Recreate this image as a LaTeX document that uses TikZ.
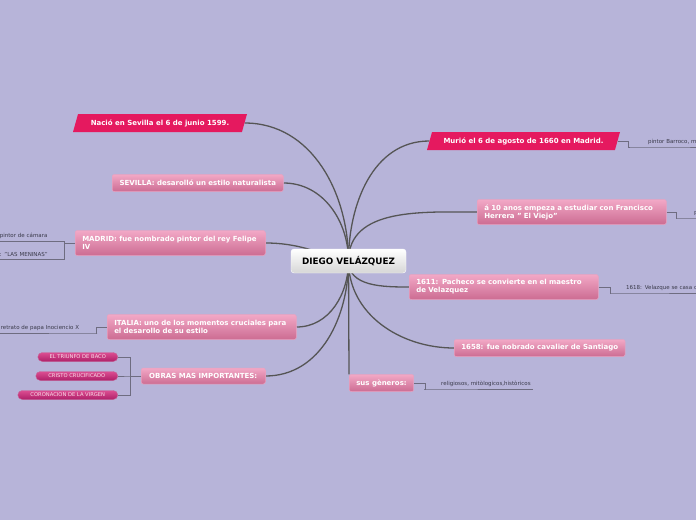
\documentclass[tikz,border=0pt]{standalone}
\usepackage{fontspec}
\setmainfont{DejaVu Sans}
\usetikzlibrary{shapes.geometric,backgrounds,calc}
\definecolor{bgcolor}{HTML}{B7B4D9}
\definecolor{linecolor}{HTML}{555555}
\definecolor{twigcolor}{HTML}{6E6C80}
\definecolor{datecolor}{HTML}{E5195F}
\definecolor{pinktop}{HTML}{F2A8C6}
\definecolor{pinkbot}{HTML}{CC6C92}
\definecolor{pinkedge}{HTML}{E8A2C0}
\definecolor{worktop}{HTML}{DC4E92}
\definecolor{workbot}{HTML}{AE1F68}
\definecolor{leafcolor}{HTML}{3A3A4A}

\tikzset{
  topic/.style={rectangle, rounded corners=2pt, top color=pinktop, bottom color=pinkbot,
    draw=pinkedge, line width=0.5pt, text=white, font=\bfseries\fontsize{7}{8}\selectfont,
    inner xsep=7pt, inner ysep=1pt, anchor=west},
  datebox/.style={trapezium, trapezium left angle=61, trapezium right angle=119,
    trapezium stretches body, fill=datecolor, text=white, minimum height=18pt,
    font=\bfseries\fontsize{7}{8}\selectfont, inner sep=1pt},
  rootbox/.style={rectangle, rounded corners=3pt, top color=white, bottom color=black!16,
    draw=white, minimum width=115pt, minimum height=24pt,
    font=\bfseries\fontsize{8.8}{10}\selectfont},
  work/.style={rectangle, rounded corners=4.5pt, top color=worktop, bottom color=workbot,
    draw=workbot!70!white, minimum height=9pt, inner sep=0pt, text=pinktop!40!white,
    font=\fontsize{5.2}{6}\selectfont, anchor=east},
  leaf/.style={text=leafcolor, font=\fontsize{5.5}{6.5}\selectfont, inner xsep=0pt,
    inner ysep=2pt, align=left},
  branch/.style={draw=linecolor, line width=1.3pt},
  twig/.style={draw=twigcolor, line width=0.6pt},
}

\begin{document}
\begin{tikzpicture}[x=1pt,y=-1pt]
  \useasboundingbox (0,0) rectangle (696,520);

  % centre
  \node[rootbox] (dv) at (348.5,261) {DIEGO VELÁZQUEZ};

  % left side
  \node[datebox, minimum width=174pt] (nacio) at (160,123) {Nació en Sevilla el 6 de junio 1599.};
  \node[topic, minimum width=171pt, minimum height=17pt] (sevilla) at (112,183)
    {SEVILLA: desarolló un estilo naturalista};
  \node[topic, text width=176pt, minimum height=25pt, align=left] (madrid) at (75,243)
    {MADRID: fue nombrado pintor del rey Felipe\\IV};
  \node[topic, text width=175pt, minimum height=25pt, align=left] (italia) at (107,327)
    {ITALIA: uno de los momentos cruciales para\\el desarollo de su estilo};
  \node[topic, minimum width=124pt, minimum height=16pt] (obras) at (141,376)
    {OBRAS MAS IMPORTANTES:};

  % right side
  \node[datebox, minimum width=193pt] (murio) at (523.5,141) {Murió el 6 de agosto de 1660 en Madrid.};
  \node[topic, text width=175pt, minimum height=25pt, align=left] (herrera) at (477,212)
    {á 10 anos empeza a estudiar con Francisco\\Herrera " El Viejo"};
  \node[topic, text width=175pt, minimum height=25pt, align=left] (pacheco) at (409,287)
    {1611: Pacheco se convierte en el maestro\\de Velazquez};
  \node[topic, minimum width=169pt, minimum height=17pt] (santiago) at (454,348)
    {1658: fue nobrado cavalier de Santiago};
  \node[topic, minimum width=64pt, minimum height=17pt] (generos) at (349,383)
    {sus gèneros:};

  % leaves
  \node[leaf, anchor=south east, text width=64pt] (camara) at (64,241) {pintor de cámara};
  \node[leaf, anchor=south east, text width=64pt] (meninas) at (64,259) {: "LAS MENINAS"};
  \node[leaf, anchor=south east, text width=97pt] (inocencio) at (97,333)
    {\hspace*{1pt}retrato de papa Inociencio X};
  \node[leaf, anchor=south west, text width=120pt] (barroco) at (631,147)
    {\hspace*{17pt}pintor Barroco, m};
  \node[leaf, anchor=south west, text width=60pt] (maestro) at (676,218)
    {\hspace*{18pt}P};
  \node[leaf, anchor=south west, text width=120pt] (boda) at (610,293)
    {\hspace*{16pt}1618: Velazque se casa c};
  \node[leaf, anchor=south west, text width=109pt] (temas) at (424,389)
    {\hspace*{17pt}religiosos, mitòlogicos,històricos};

  \draw[twig] (madrid.west) -- ++(-11,0) |- (camara.south east) -- (camara.south west);
  \draw[twig] (madrid.west) -- ++(-11,0) |- (meninas.south east) -- (meninas.south west);
  \draw[twig] (italia.west) -- ++(-11,0) |- (inocencio.south east) -- (inocencio.south west);
  \draw[twig] (murio.east) -- ++(11,0) |- (barroco.south west) -- (barroco.south east);
  \draw[twig] (herrera.east) -- ++(10,0) |- (maestro.south west) -- (maestro.south east);
  \draw[twig] (pacheco.east) -- ++(12,0) |- (boda.south west) -- (boda.south east);
  \draw[twig] (generos.east) -- ++(11,0) |- (temas.south west) -- (temas.south east);

  \foreach \n/\y/\w/\t in {baco/357/80/EL TRIUNFO DE BACO,
                           cristo/376/82/CRISTO CRUCIFICADO,
                           virgen/395/100/CORONACION DE LA VIRGEN} {
    \node[work, minimum width=\w pt] (\n) at (118,\y) {\t};
    \draw[twig] (obras.west) -- ++(-11,0) |- (\n.east);
  }

  \begin{scope}[on background layer]
    \fill[bgcolor] (0,0) rectangle (696,520);
    \draw[branch] (dv.center) to[out=90,in=0] (nacio.east);
    \draw[branch] (dv.center) to[out=90,in=0] (sevilla.east);
    \draw[branch] (dv.center) to[out=165,in=0] (madrid.east);
    \draw[branch] (dv.center) to[out=-90,in=0] (italia.east);
    \draw[branch] (dv.center) to[out=-90,in=0] (obras.east);
    \draw[branch] (dv.center) to[out=90,in=180] (murio.west);
    \draw[branch] (dv.center) to[out=90,in=180] (herrera.west);
    \draw[branch] (dv.center) to[out=-90,in=180] (pacheco.west);
    \draw[branch] (dv.center) to[out=-90,in=180] (santiago.west);
    \draw[branch] (dv.center) -- (generos.north west);
  \end{scope}
\end{tikzpicture}
\end{document}
